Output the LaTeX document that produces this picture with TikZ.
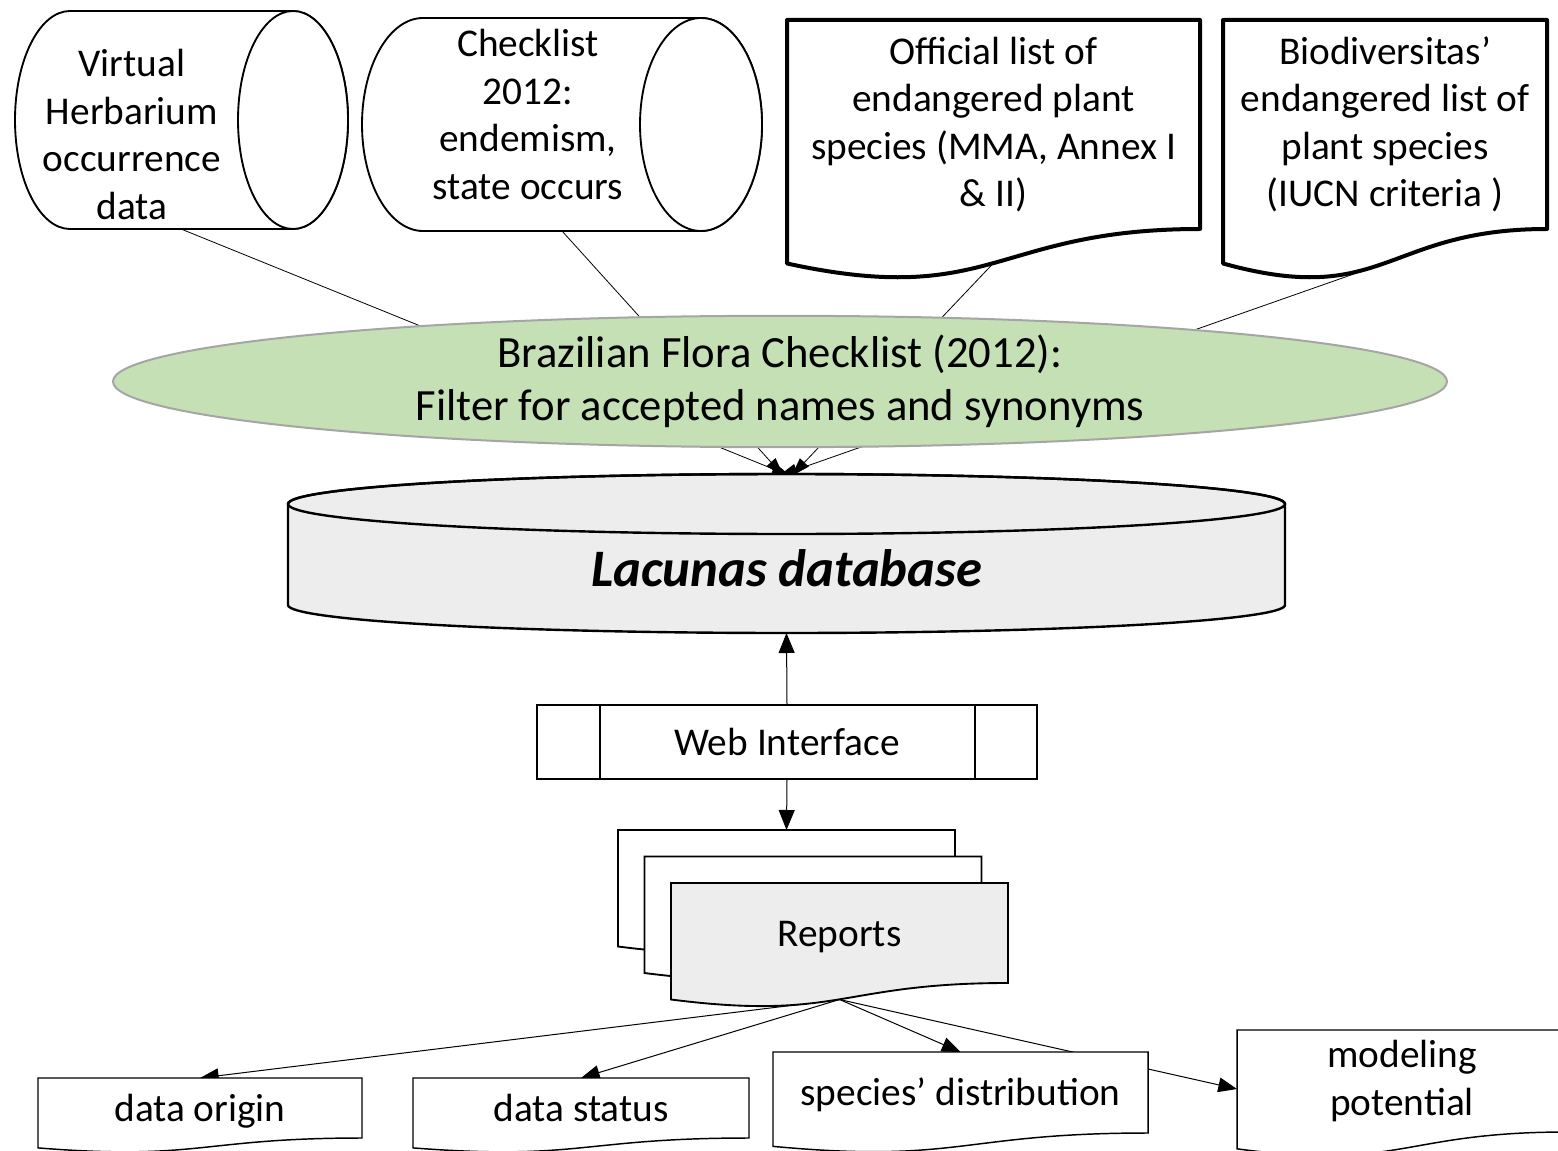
\documentclass[tikz,border=0pt]{standalone}
\usepackage{fontspec}
\setmainfont{Carlito}
\usetikzlibrary{shapes.geometric,arrows.meta,calc}
\pgfdeclarelayer{lines}
\pgfdeclarelayer{shapes}
\pgfsetlayers{lines,shapes,main}

\definecolor{dbgray}{RGB}{237,237,237}
\definecolor{flgreen}{RGB}{197,224,180}
\definecolor{flborder}{RGB}{165,165,165}

% document outline with a wavy bottom, drawn round a node
\newcommand{\wavedoc}[2]{%
  \draw[#2] (#1.north west) -- (#1.north east) -- (#1.south east)
    .. controls (#1.south) and ($(#1.north)!1.38!(#1.south)$) .. ($(#1.north west)!1.165!(#1.south west)$) -- cycle;}

\tikzset{
  txt/.style={font=\fontsize{29.5}{35.6}\selectfont, align=center, inner sep=0pt, outer sep=0pt},
  oneline/.style={text height=27.8pt, text depth=7.9pt},
  can/.style={line width=1.4pt, fill=white},
  thickdoc/.style={line width=3pt, fill=white, line join=round},
  thindoc/.style={line width=1.1pt, fill=white},
  repdoc/.style={line width=1.4pt},
  srcline/.style={line width=0.6pt, -{Triangle[length=14pt,width=9pt]}},
  linkarrow/.style={line width=0.75pt, -{Triangle[length=15pt,width=12pt]}},
  outarrow/.style={line width=0.75pt, -{Triangle[length=14pt,width=11pt]}}
}

\begin{document}
\begin{tikzpicture}[x=0.75pt,y=0.75pt,yscale=-1,xscale=1]
    \useasboundingbox (0,0) rectangle (1558,1151);

    % Text Node
    \draw (132,134.5) node (vhd) [txt] {Virtual\\Herbarium\\occurrence\\data};
    % Text Node
    \draw (528,114.5) node (ckl) [txt] {Checklist\\2012:\\endemism,\\state occurs};
    % Text Node
    \draw (993.5,124.5) node (offlist) [txt, minimum width=309.75pt, minimum height=156.75pt] {Official list of\\endangered plant\\species (MMA, Annex I\\\& II)};
    % Text Node
    \draw (1385,124.5) node (biolist) [txt, minimum width=243pt, minimum height=156.75pt] {Biodiversitas’\\endangered list of\\plant species\\(IUCN criteria )};
    %Shape: Ellipse
    \draw (780,381.5) node (bfc) [txt, ellipse, draw=flborder, line width=1.5pt, fill=flgreen, minimum width=1000.5pt, minimum height=92.25pt, font=\fontsize{33.5}{39.8}\selectfont] {Brazilian Flora Checklist (2012):\\Filter for accepted names and synonyms};
    % Text Node
    \draw (786.5,568.5) node (db) [txt, minimum width=747.75pt, minimum height=96.75pt, font=\fontsize{39.5}{46}\selectfont\bfseries\itshape] {Lacunas database};
    %Shape: Predefined Process
    \draw (787,742) node (web) [txt, oneline, draw, line width=1.1pt, fill=white, minimum width=375pt, minimum height=55.5pt] {Web Interface};
    \draw [line width=1.1pt] ([xshift=47.25pt]web.north west) -- ([xshift=47.25pt]web.south west) ([xshift=-46.5pt]web.north east) -- ([xshift=-46.5pt]web.south east);
    % Text Node
    \draw (786.5,880) node (rep1) [txt, minimum width=252.75pt, minimum height=75pt] {};
    \draw (813,906.5) node (rep2) [txt, minimum width=252.75pt, minimum height=75pt] {};
    \draw (839.5,933) node (reports) [txt, oneline, minimum width=252.75pt, minimum height=75pt] {Reports};
    % Text Node
    \draw (200,1108) node (orig) [txt, oneline, minimum width=243pt, minimum height=45pt] {data origin};
    \draw (581,1108) node (stat) [txt, oneline, minimum width=252pt, minimum height=45pt] {data status};
    \draw (960.5,1092.5) node (dist) [txt, oneline, minimum width=281.25pt, minimum height=60.75pt] {species’ distribution};
    \draw (1402,1081) node (model) [txt, minimum width=247.5pt, minimum height=76.5pt] {modeling\\potential};

    \begin{pgfonlayer}{shapes}
    %Shape: Can
    \draw [can] (293,11) -- (70,11) arc [start angle=-90, end angle=-270, x radius=55, y radius=109] -- (293,229) arc [start angle=90, end angle=-90, x radius=55, y radius=109] -- cycle;
    \draw [can] (293,120) ellipse [x radius=55, y radius=109];
    \coordinate (vhdbase) at (181,229);
    %Shape: Can
    \draw [can] (701,18) -- (423,18) arc [start angle=-90, end angle=-270, x radius=61, y radius=106.5] -- (701,231) arc [start angle=90, end angle=-90, x radius=61, y radius=106.5] -- cycle;
    \draw [can] (701,124.5) ellipse [x radius=61, y radius=106.5];
    \coordinate (cklbase) at (562,231);
    %Shape: Document
    \wavedoc{offlist}{thickdoc}
    \wavedoc{biolist}{thickdoc}
    %Shape: Can
    \draw [line width=1.8pt, fill=dbgray] (288,504) -- (288,605) arc [start angle=180, end angle=0, x radius=498.5, y radius=28] -- (1285,504) arc [start angle=0, end angle=-180, x radius=498.5, y radius=30] -- cycle;
    \draw [line width=1.8pt] (786.5,504) ellipse [x radius=498.5, y radius=30];
    \coordinate (dbtop) at ($(db.north)+(0,-28)$);
    %Shape: Multidocument
    \wavedoc{rep1}{repdoc, fill=white}
    \wavedoc{rep2}{repdoc, fill=white}
    \wavedoc{reports}{repdoc, fill=dbgray}
    \coordinate (repout) at ($(reports.north)!1.165!(reports.south)$);
    %Shape: Document
    \wavedoc{orig}{thindoc}
    \wavedoc{stat}{thindoc}
    \wavedoc{dist}{thindoc}
    \wavedoc{model}{thindoc}
    \end{pgfonlayer}

    \begin{pgfonlayer}{lines}
    %Straight Lines
    \draw [srcline] (vhdbase) -- ($(dbtop)+(4,0)$);
    \draw [srcline] (cklbase) -- ($(dbtop)+(-3,0)$);
    \draw [srcline] ($(offlist.north)!1.163!(offlist.south)$) -- ($(dbtop)+(5,0)$);
    \draw [srcline] ($(biolist.north)!1.163!(biolist.south)$) -- ($(dbtop)+(-8,0)$);
    %Straight Lines
    \draw [linkarrow, {Triangle[length=15pt,width=12pt]}-] (db.south) -- (web.north);
    \draw [linkarrow] (web.south) -- (rep1.north);
    %Straight Lines
    \draw [outarrow] (repout) -- (orig.north);
    \draw [outarrow] (repout) -- (stat.north);
    \draw [outarrow] (repout) -- (dist.north);
    \draw [outarrow] (repout) -- ($(model.west)+(0,8)$);
    \end{pgfonlayer}

\end{tikzpicture}
\end{document}
